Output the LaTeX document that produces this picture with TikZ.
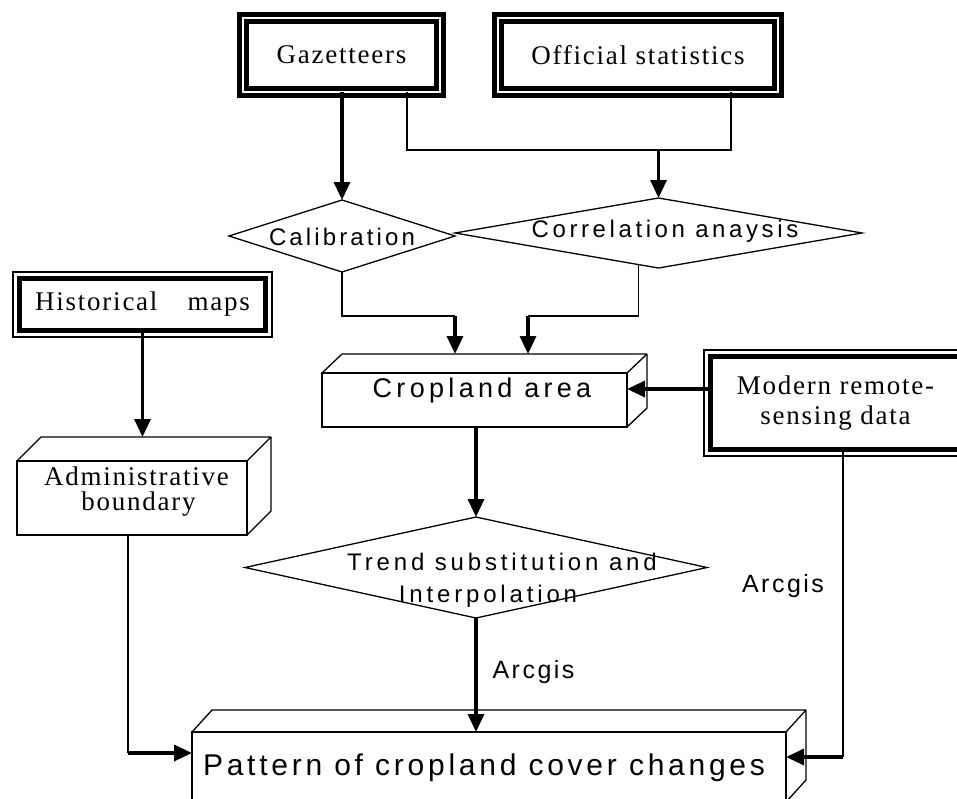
\documentclass[tikz,border=0pt]{standalone}
\usepackage{fontspec}
\setmainfont{Liberation Serif}
\setsansfont{Liberation Sans}
\newfontfamily\serifLS[LetterSpace=6.5]{Liberation Serif}
\newfontfamily\sansLS[LetterSpace=13]{Liberation Sans}
\newfontfamily\sansLSf[LetterSpace=15]{Liberation Sans}
\newfontfamily\sansLSb[LetterSpace=16]{Liberation Sans}
\newfontfamily\sansLSc[LetterSpace=12.5]{Liberation Sans}
\newfontfamily\sansLSd[LetterSpace=10]{Liberation Sans}
\newfontfamily\sansLSe[LetterSpace=16]{Liberation Sans}
\usetikzlibrary{arrows.meta,calc,shapes.geometric}
\begin{document}
\begin{tikzpicture}[x=1pt,y=-1pt,
  serif/.style={font=\serifLS\fontsize{27}{30}\selectfont},
  framedbl/.style={draw, line width=5pt, double=white, double distance=2pt, inner sep=0pt, outer sep=0pt, serif},
  framein/.style={draw, line width=5pt, inner sep=0pt, outer sep=0pt, serif, align=center},
  frameout/.style={draw, line width=2pt},
  face/.style={draw, line width=1.3pt, inner sep=0pt, outer sep=0pt},
  edge/.style={draw, line width=1.3pt, line join=round},
  dia/.style={diamond, draw, line width=1.3pt, inner sep=0pt, outer sep=0pt},
  thinl/.style={draw, line width=1.3pt},
  arr/.style={draw, line width=3.3pt, -{Triangle[length=18pt,width=16pt]}},
  sanslbl/.style={font=\sansLS\fontsize{24}{28}\selectfont, inner sep=0pt, anchor=base},
  seriflbl/.style={font=\serifLS\fontsize{27}{30}\selectfont, inner sep=0pt, anchor=base}
]
\fill[white] (0,0) rectangle (957,798);
\useasboundingbox (0,0) rectangle (957,798);

% top source boxes
\node[framedbl, minimum width=197pt, minimum height=74pt] (gaz) at (341.5,55) {Gazetteers};
\node[framedbl, minimum width=280pt, minimum height=74pt] (off) at (638,55) {Official statistics};

% historical maps
\node[framein, minimum width=246pt, minimum height=52pt] (hist) at (142.5,304.5) {Historical\hspace{30pt}maps};
\draw[frameout] ($(hist.north west)+(-6.5,-6.5)$) rectangle ($(hist.south east)+(6.5,6.5)$);

% modern remote sensing
\node[framein, minimum width=250pt, minimum height=93pt] (mod) at (835.5,403) {Modern remote-\\sensing data};
\draw[frameout] ($(mod.north west)+(-6.5,-6.5)$) rectangle ($(mod.south east)+(6.5,6.5)$);

% diamonds
\node[dia, minimum width=226pt, minimum height=72pt] (cal) at (342,236) {};
\node[sanslbl] (caltext) at (342,245) {Calibration};
\node[dia, minimum width=407pt, minimum height=70pt] (corr) at (658.5,233) {};
\node[sanslbl, font=\sansLSf\fontsize{24}{28}\selectfont] (corrtext) at (665,237) {Correlation anaysis};

% cropland cuboid
\node[face, minimum width=305pt, minimum height=54pt] (crop) at (474.5,400) {};
\draw[edge] (crop.north west) -- ++(20,-19) -- ($(crop.north east)+(20,-19)$) -- ($(crop.south east)+(20,-19)$) -- (crop.south east)
  (crop.north east) -- ++(20,-19);
\node[sanslbl, font=\sansLSb\fontsize{27}{30}\selectfont] (croptext) at (482,397) {Cropland area};

% administrative boundary cuboid
\node[face, minimum width=230pt, minimum height=74pt] (adm) at (132,498) {};
\draw[edge] (adm.north west) -- ++(24,-24) -- ($(adm.north east)+(24,-24)$) -- ($(adm.south east)+(24,-24)$) -- (adm.south east)
  (adm.north east) -- ++(24,-24);
\node[seriflbl] (admtext1) at (136.5,485) {Administrative};
\node[seriflbl] (admtext2) at (138.5,510) {boundary};

% trend diamond
\node[dia, minimum width=462pt, minimum height=101pt] (trend) at (476,567.5) {};
\node[sanslbl, font=\sansLSe\fontsize{24}{28}\selectfont] (trendtext1) at (502,570) {Trend substitution and};
\node[sanslbl, font=\sansLSe\fontsize{24}{28}\selectfont] (trendtext2) at (488,602) {Interpolation};

% pattern cuboid
\node[face, minimum width=594pt, minimum height=70pt] (pat) at (489,767) {};
\draw[edge] (pat.north west) -- ++(20,-22) -- ($(pat.north east)+(20,-22)$) -- ($(pat.south east)+(20,-22)$) -- (pat.south east)
  (pat.north east) -- ++(20,-22);
\node[sanslbl, font=\sansLSc\fontsize{30}{34}\selectfont] (pattext) at (484,775) {Pattern of cropland cover changes};

% labels
\node[sanslbl, font=\sansLSd\fontsize{25}{28}\selectfont] (arc1) at (533.5,678) {Arcgis};
\node[sanslbl, font=\sansLSd\fontsize{25}{28}\selectfont] (arc2) at (783,592) {Arcgis};

% junction coordinates
\coordinate (jg) at (407,150);
\coordinate (jo) at (731,150);
\coordinate (j1) at (455,316);
\coordinate (j2) at (528,316);
\coordinate (ay) at (0,389);
\coordinate (ax) at (128,753);
\coordinate (bx) at (843,757);
\coordinate (croptop) at ($(crop.north)+(0,-19)$);
\coordinate (admtop) at ($(adm.north)+(0,-24)$);
\coordinate (corrbl) at ($(corr.south)!0.1!(corr.west)$);

% connectors
\draw[arr] (gaz.south -| cal.north) -- (cal.north);
\draw[thinl] (gaz.south -| jg) -- (jg) -- (jo) -- (off.south -| jo);
\draw[arr] (corr.north |- jg) -- (corr.north);
\draw[thinl] (cal.south) |- (j1);
\draw[arr] (j1) -- (j1 |- croptop);
\draw[thinl] (corrbl) |- (j2);
\draw[arr] (j2) -- (j2 |- croptop);
\draw[arr] (hist.south) -- (hist.south |- admtop);
\draw[arr] (mod.west |- ay) -- (crop.east |- ay);
\draw[arr] (crop.south -| trend.north) -- (trend.north);
\draw[arr] (trend.south) -- (trend.south |- pat.north);
\draw[thinl] (adm.south -| ax) -- (ax);
\draw[arr] (ax) -- (pat.west |- ax);
\draw[thinl] (mod.south -| bx) -- (bx);
\draw[arr] (bx) -- (pat.east |- bx);
\end{tikzpicture}
\end{document}
